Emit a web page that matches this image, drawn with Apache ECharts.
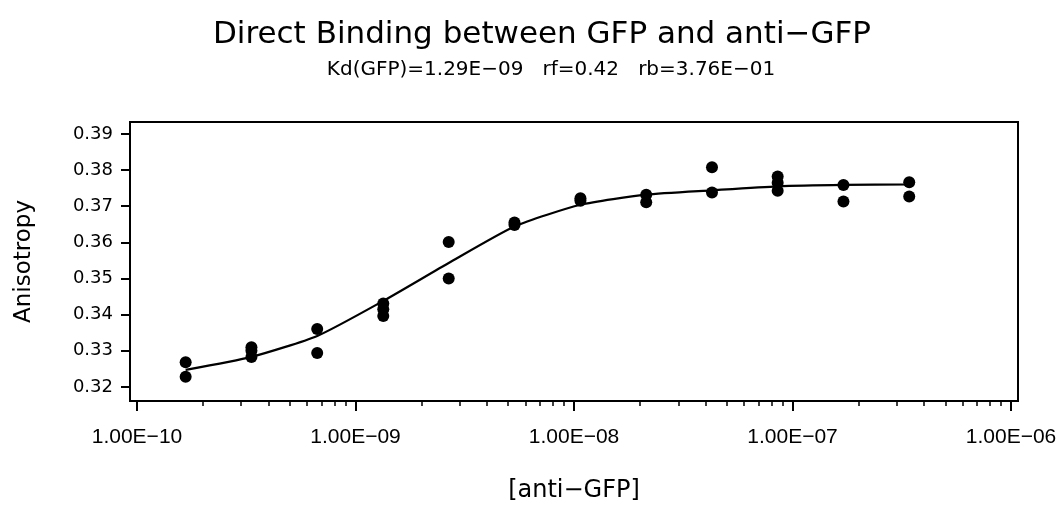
<!DOCTYPE html>
<html>
<head>
<meta charset="utf-8">
<script src="https://cdn.jsdelivr.net/npm/echarts@6/dist/echarts.min.js"></script>
<style>
html,body{margin:0;padding:0;background:#fff;}
#chart{width:1062px;height:508px;}
</style>
</head>
<body>
<div id="chart"></div>
<script>
// ---- data ----
const conc = [1.67e-10, 3.34e-10, 6.68e-10, 1.34e-9, 2.67e-9, 5.34e-9, 1.07e-8, 2.14e-8, 4.28e-8, 8.55e-8, 1.71e-7, 3.42e-7];
const anisoRep1 = [0.3268, 0.3310, 0.3360, 0.3431, 0.3601, 0.3655, 0.3722, 0.3732, 0.3808, 0.3782, 0.3759, 0.3766];
const anisoRep2 = [0.3228, 0.3283, 0.3294, 0.3396, 0.3500, 0.3648, 0.3715, 0.3711, 0.3738, 0.3743, 0.3713, 0.3727];
const anisoRep3 = [null, 0.3300, null, 0.3415, null, null, null, null, null, 0.3765, null, null];
const fitCurve = [0.3247, 0.3283, 0.3341, 0.3438, 0.3543, 0.3644, 0.3704, 0.3732, 0.3744, 0.3755, 0.3759, 0.3760];
const xMajorTicks = [1e-10, 1e-9, 1e-8, 1e-7, 1e-6];
const xMinorMultipliers = [2, 3, 4, 5, 6, 7, 8, 9];
const yTicks = [0.32, 0.33, 0.34, 0.35, 0.36, 0.37, 0.38, 0.39];
const titleText = 'Direct Binding between GFP and anti\u2212GFP';
const subtitleText = 'Kd(GFP)=1.29E\u221209   rf=0.42   rb=3.76E\u221201';
const xName = '[anti\u2212GFP]';
const yName = 'Anisotropy';

// ---- build ----
const xMinorTicks = [];
xMajorTicks.slice(0, -1).forEach(d => xMinorMultipliers.forEach(m => xMinorTicks.push(+(d * m).toPrecision(3))));

const points = [];
[anisoRep1, anisoRep2, anisoRep3].forEach(rep => rep.forEach((v, i) => { if (v != null) points.push([conc[i], v]); }));
const fitData = conc.map((c, i) => [c, fitCurve[i]]);

function fmtSci(v) {
  const s = v.toExponential(2).toUpperCase();   // e.g. 1.00E-10
  const m = s.match(/^(-?[\d.]+)E([+-])(\d+)$/);
  const exp = m[3].padStart(2, '0');
  return m[1] + 'E' + (m[2] === '-' ? '\u2212' : '+') + exp;
}

const xMin = 9.29e-11, xMax = 1.076e-6;
const font = 'DejaVu Sans';

const chart = echarts.init(document.getElementById('chart'), null, {renderer: 'canvas'});
chart.setOption({
  backgroundColor: '#fff',
  animation: false,
  title: [
    {text: titleText, left: 537, textAlign: 'center', top: 14,
     textStyle: {fontFamily: font, fontSize: 31, fontWeight: 'normal', color: '#000'}},
    {text: subtitleText, left: 546, textAlign: 'center', top: 55,
     textStyle: {fontFamily: font, fontSize: 20, fontWeight: 'normal', color: '#000'}}
  ],
  grid: {left: 130, right: 44, top: 122, bottom: 105, show: true, borderColor: '#000', borderWidth: 2, backgroundColor: '#fff'},
  xAxis: [
    {type: 'log', logBase: 10, min: xMin, max: xMax, position: 'bottom',
     name: xName, nameLocation: 'middle', nameGap: 78,
     nameTextStyle: {fontFamily: font, fontSize: 24, color: '#000'},
     axisLine: {show: true, lineStyle: {color: '#000', width: 2}},
     axisTick: {show: true, length: 10, customValues: xMajorTicks, lineStyle: {color: '#000', width: 2}},
     axisLabel: {show: true, customValues: xMajorTicks, margin: 26, formatter: fmtSci,
                 fontFamily: 'Liberation Sans', fontSize: 21, color: '#000'},
     splitLine: {show: false}, minorTick: {show: false}},
    {type: 'log', logBase: 10, min: xMin, max: xMax, position: 'bottom',
     axisLine: {show: false},
     axisTick: {show: true, length: 5, customValues: xMinorTicks, lineStyle: {color: '#000', width: 1.5}},
     axisLabel: {show: false}, splitLine: {show: false}}
  ],
  yAxis: {
    type: 'value', min: 0.3161, max: 0.3933,
    name: yName, nameLocation: 'middle', nameGap: 94, nameRotate: 90,
    nameTextStyle: {fontFamily: font, fontSize: 23, color: '#000'},
    axisLine: {show: true, lineStyle: {color: '#000', width: 2}},
    axisTick: {show: true, length: 9, customValues: yTicks, lineStyle: {color: '#000', width: 2}},
    axisLabel: {customValues: yTicks, formatter: v => v.toFixed(2), margin: 17,
                fontFamily: font, fontSize: 18, color: '#000'},
    splitLine: {show: false}
  },
  series: [
    {type: 'line', name: 'fit', xAxisIndex: 0, data: fitData, showSymbol: false, smooth: 0.2,
     lineStyle: {color: '#000', width: 2.2}, z: 2},
    {type: 'scatter', name: 'data', xAxisIndex: 0, data: points, symbol: 'circle', symbolSize: 12,
     itemStyle: {color: '#000', opacity: 1}, z: 3}
  ]
});
</script>
</body>
</html>
